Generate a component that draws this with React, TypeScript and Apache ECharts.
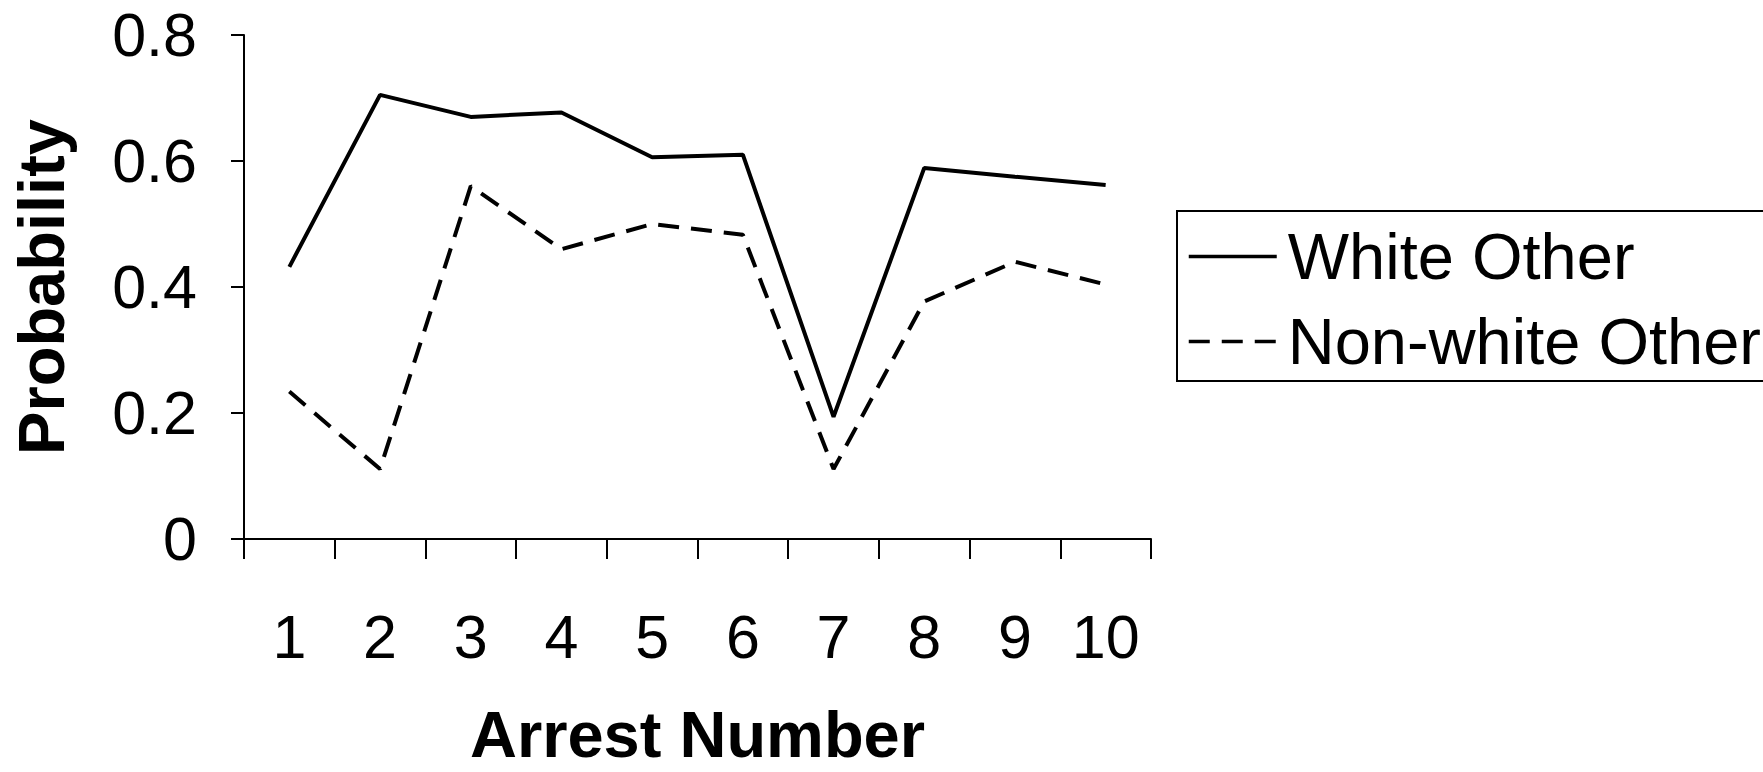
import React, { useEffect, useRef } from "react";
import * as echarts from "echarts";

const categories = ["1", "2", "3", "4", "5", "6", "7", "8", "9", "10"];
const whiteOther = [0.432, 0.705, 0.67, 0.677, 0.606, 0.61, 0.194, 0.589, 0.575, 0.562];
const nonWhiteOther = [0.234, 0.111, 0.56, 0.46, 0.5, 0.483, 0.111, 0.377, 0.44, 0.404];
const seriesNames = ["White Other", "Non-white Other"];
const xTitle = "Arrest Number";
const yTitle = "Probability";

const FONT = "'Liberation Sans', Arial, sans-serif";

export default function App() {
  const ref = useRef<HTMLDivElement>(null);
  useEffect(() => {
    document.body.style.margin = "0";
    const chart = echarts.init(ref.current!, null, { renderer: "svg" });
    chart.setOption({
      animation: false,
      backgroundColor: "#ffffff",
      grid: { left: 244, right: 1763 - 1151, top: 35, bottom: 772 - 545, containLabel: false },
      legend: {
        orient: "vertical",
        left: 1177,
        top: 211,
        data: seriesNames,
        itemWidth: 88,
        itemHeight: 14,
        itemGap: 20,
        padding: [13, 60, 7, 10],
        borderColor: "#000",
        borderWidth: 2,
        itemStyle: { opacity: 0, borderWidth: 0 },
        lineStyle: { width: 3.5, color: "#000", type: "inherit" },
        textStyle: { fontFamily: FONT, fontSize: 65, color: "#000", lineHeight: 64, padding: [0, 0, 0, 6] },
      },
      xAxis: {
        type: "category",
        data: categories,
        boundaryGap: true,
        name: xTitle,
        nameLocation: "middle",
        nameGap: 163,
        nameTextStyle: { fontFamily: FONT, fontSize: 65, fontWeight: "bold", color: "#000" },
        axisLine: { lineStyle: { color: "#000", width: 2 } },
        axisTick: { show: true, length: 20, alignWithLabel: false, lineStyle: { color: "#000", width: 2 } },
        axisLabel: { fontFamily: FONT, fontSize: 61, color: "#000", margin: 67, lineHeight: 61 },
        splitLine: { show: false },
      },
      yAxis: {
        type: "value",
        min: 0,
        max: 0.8,
        interval: 0.2,
        name: yTitle,
        nameLocation: "middle",
        nameGap: 170,
        nameRotate: 90,
        nameTextStyle: { fontFamily: FONT, fontSize: 65, fontWeight: "bold", color: "#000" },
        axisLine: { show: true, lineStyle: { color: "#000", width: 2 } },
        axisTick: { show: true, length: 13, lineStyle: { color: "#000", width: 2 } },
        axisLabel: { fontFamily: FONT, fontSize: 61, color: "#000", margin: 47 },
        splitLine: { show: false },
      },
      series: [
        {
          name: seriesNames[0],
          type: "line",
          data: whiteOther,
          symbol: "none",
          lineStyle: { color: "#000", width: 4, type: "solid" },
          itemStyle: { color: "#000" },
        },
        {
          name: seriesNames[1],
          type: "line",
          data: nonWhiteOther,
          symbol: "none",
          lineStyle: { color: "#000", width: 4, type: [21, 12] },
          itemStyle: { color: "#000" },
        },
      ],
    });
    return () => chart.dispose();
  }, []);
  return (
    <div
      ref={ref}
      style={{ position: "fixed", left: 0, top: 0, width: 1763, height: 772 }}
    />
  );
}
